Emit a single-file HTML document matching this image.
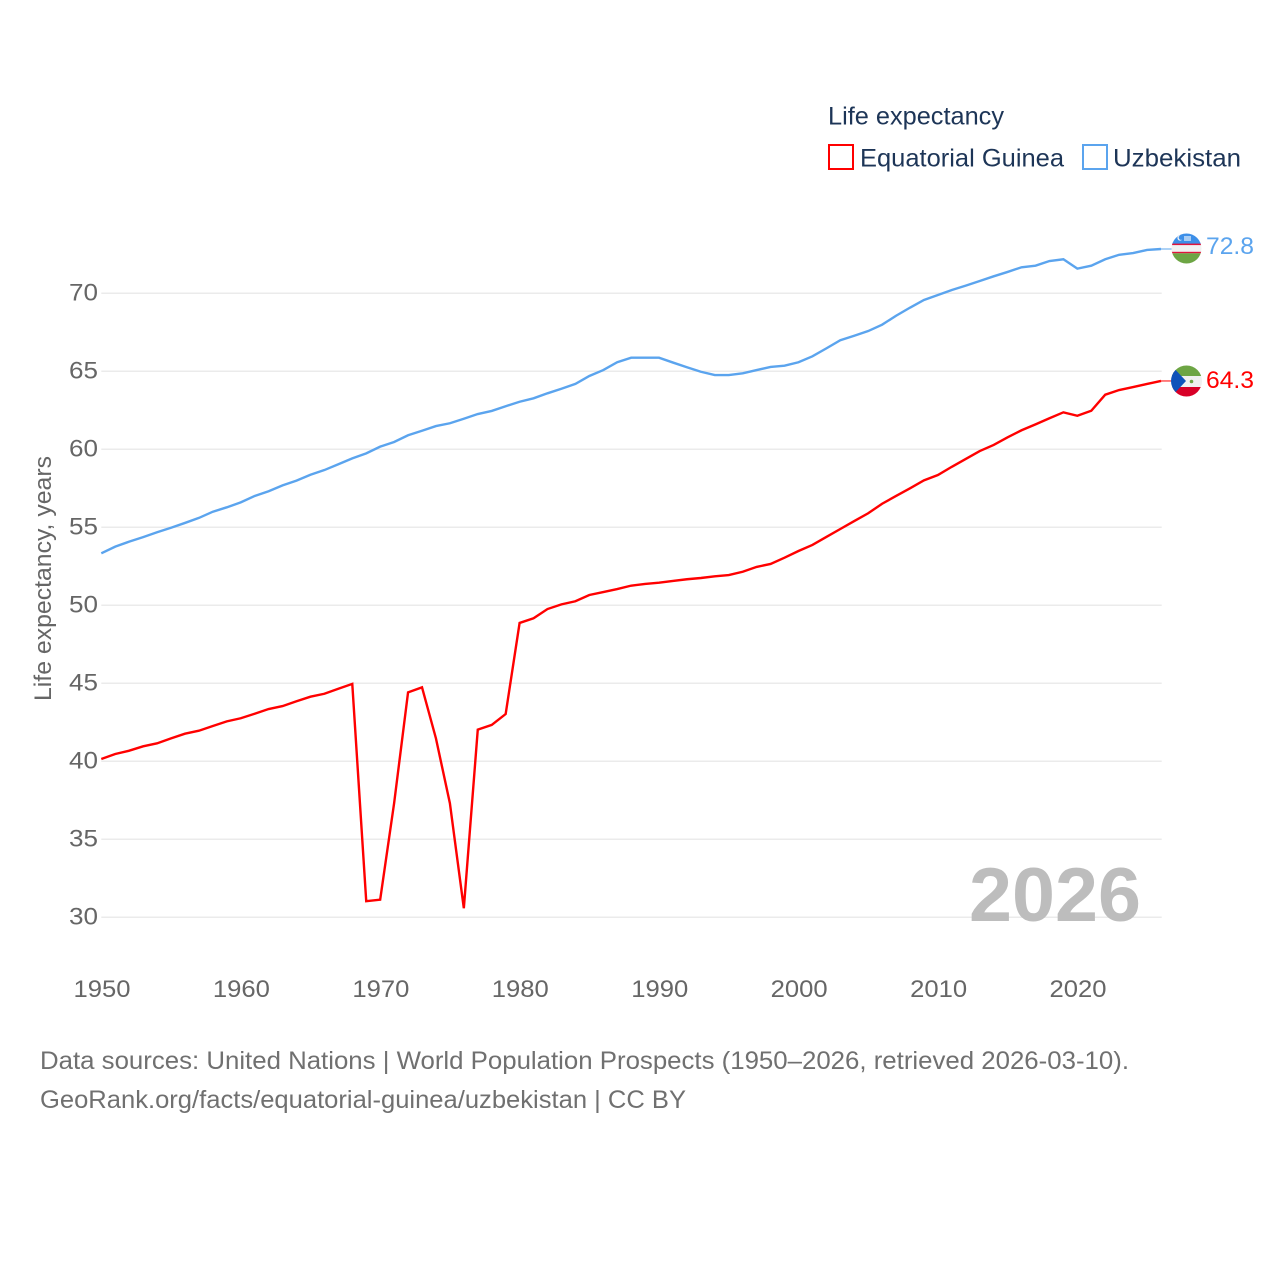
<!DOCTYPE html>
<html lang="en">
<head>
<meta charset="utf-8">
<title>Life expectancy: Equatorial Guinea and Uzbekistan</title>
<style>
html,body{margin:0;padding:0;background:#fff;}
svg{display:block;font-family:"Liberation Sans",sans-serif;}
</style>
</head>
<body>
<svg id="chart" xmlns="http://www.w3.org/2000/svg" width="1280" height="1280" viewBox="0 0 1280 1280">
  <defs>
    <clipPath id="clip-uz"><circle cx="1186.5" cy="248.5" r="15"/></clipPath>
    <clipPath id="clip-gq"><circle cx="1186.5" cy="381" r="15.5"/></clipPath>
  </defs>
  <rect x="0" y="0" width="1280" height="1280" fill="#ffffff"/>

  <g>
    <text x="828" y="124.5" font-size="25" fill="#1d3557" textLength="176" lengthAdjust="spacingAndGlyphs">Life expectancy</text>
    <g>
      <rect x="829" y="145" width="24" height="24" fill="#fff" stroke="#ff0000" stroke-width="2"/>
      <text x="860" y="166.5" font-size="25" fill="#1d3557" textLength="204" lengthAdjust="spacingAndGlyphs">Equatorial Guinea</text>
    </g>
    <g>
      <rect x="1083" y="145" width="24" height="24" fill="#fff" stroke="#5ba4ee" stroke-width="2"/>
      <text x="1113" y="166.5" font-size="25" fill="#1d3557" textLength="128" lengthAdjust="spacingAndGlyphs">Uzbekistan</text>
    </g>
  </g>

  <g id="grid"></g>
  <g id="y-ticks"></g>
  <g id="x-ticks"></g>

  <text transform="translate(51,701) rotate(-90)" x="0" y="0" font-size="24" fill="#666666" textLength="245" lengthAdjust="spacingAndGlyphs">Life expectancy, years</text>

  <text x="969" y="921" font-size="76" font-weight="700" fill="#bdbdbd" textLength="172" lengthAdjust="spacingAndGlyphs">2026</text>

  <g id="series"></g>

  <g clip-path="url(#clip-uz)">
    <rect x="1170" y="232" width="34" height="12" fill="#3d8fe8"/>
    <rect x="1170" y="244" width="34" height="9" fill="#f2f2f2"/>
    <rect x="1170" y="243.6" width="34" height="1.5" fill="#e0143c"/>
    <rect x="1170" y="251.8" width="34" height="1.5" fill="#e0143c"/>
    <rect x="1170" y="253.3" width="34" height="12" fill="#6da544"/>
    <circle cx="1180" cy="238" r="2.6" fill="#f2f2f2"/>
    <circle cx="1181" cy="237.6" r="2.3" fill="#3d8fe8"/>
    <rect x="1184" y="236" width="7" height="5" fill="#a9cdf4"/>
  </g>
  <g clip-path="url(#clip-gq)">
    <rect x="1170" y="365" width="34" height="11" fill="#6da544"/>
    <rect x="1170" y="376" width="34" height="11" fill="#f0f0f0"/>
    <rect x="1170" y="387" width="34" height="11" fill="#d80027"/>
    <polygon points="1171,365 1186,381 1171,397" fill="#0f52ba"/>
    <circle cx="1191.5" cy="381.5" r="1.8" fill="#6da544"/>
  </g>

  <text x="1206" y="254" font-size="24.5" fill="#5ba4ee" textLength="48" lengthAdjust="spacingAndGlyphs">72.8</text>
  <text x="1206" y="388" font-size="24.5" fill="#ff0000" textLength="48" lengthAdjust="spacingAndGlyphs">64.3</text>

  <text x="40" y="1069" font-size="25" fill="#707070" textLength="1089" lengthAdjust="spacingAndGlyphs">Data sources: United Nations | World Population Prospects (1950–2026, retrieved 2026-03-10).</text>
  <text x="40" y="1108" font-size="25" fill="#707070" textLength="646" lengthAdjust="spacingAndGlyphs">GeoRank.org/facts/equatorial-guinea/uzbekistan | CC BY</text>
</svg>

<script>
const firstYear = 1950;
const lastYear = 2026;
const yTickValues = [30, 35, 40, 45, 50, 55, 60, 65, 70];
const xTickValues = [1950, 1960, 1970, 1980, 1990, 2000, 2010, 2020];
const equatorialGuineaValues = [
  40.15, 40.47, 40.68, 40.96, 41.15, 41.47, 41.77, 41.96, 42.26, 42.56,
  42.76, 43.05, 43.35, 43.54, 43.85, 44.14, 44.33, 44.65, 44.96, 31.03,
  31.13, 37.31, 44.42, 44.74, 41.47, 37.31, 30.58, 42.03, 42.33, 43.03,
  48.87, 49.17, 49.76, 50.06, 50.26, 50.66, 50.85, 51.04, 51.26, 51.37,
  51.45, 51.56, 51.67, 51.75, 51.86, 51.94, 52.15, 52.46, 52.65, 53.05,
  53.48, 53.87, 54.38, 54.89, 55.40, 55.90, 56.51, 57.01, 57.50, 58.01,
  58.35, 58.88, 59.38, 59.89, 60.28, 60.77, 61.22, 61.60, 61.99, 62.37,
  62.15, 62.47, 63.50, 63.80, 63.99, 64.19, 64.38
];
const uzbekistanValues = [
  53.33, 53.76, 54.08, 54.37, 54.68, 54.97, 55.28, 55.60, 56.00, 56.28,
  56.60, 57.01, 57.31, 57.69, 57.99, 58.37, 58.67, 59.04, 59.42, 59.74,
  60.17, 60.47, 60.90, 61.19, 61.49, 61.67, 61.96, 62.26, 62.46, 62.76,
  63.05, 63.27, 63.59, 63.88, 64.19, 64.70, 65.08, 65.58, 65.87, 65.87,
  65.87, 65.56, 65.26, 64.97, 64.76, 64.76, 64.87, 65.08, 65.28, 65.36,
  65.58, 65.96, 66.47, 66.99, 67.28, 67.58, 67.99, 68.56, 69.08, 69.57,
  69.89, 70.21, 70.49, 70.79, 71.09, 71.37, 71.67, 71.77, 72.07, 72.18,
  71.58, 71.77, 72.18, 72.47, 72.58, 72.78, 72.84
];

const SVG_NS = 'http://www.w3.org/2000/svg';
const plotLeft = 101.3;
const plotRight = 1161;
const gridRight = 1161.7;
const labelShift = 0.7;
const plotY30 = 917.3;
const plotY70 = 293.3;

function xScale(year) {
  return plotLeft + (year - firstYear) * (plotRight - plotLeft) / (lastYear - firstYear);
}
function yScale(value) {
  return plotY30 + (value - 30) * (plotY70 - plotY30) / (70 - 30);
}
function make(tag, attrs, text) {
  const el = document.createElementNS(SVG_NS, tag);
  for (const k in attrs) el.setAttribute(k, attrs[k]);
  if (text !== undefined) el.textContent = text;
  return el;
}

const gridGroup = document.getElementById('grid');
const yTickGroup = document.getElementById('y-ticks');
yTickValues.forEach(function (v) {
  const line = make('line', { x1: plotLeft, x2: gridRight, y1: yScale(v), y2: yScale(v), stroke: '#ebebeb', 'stroke-width': 1.5 });
  
  
  gridGroup.appendChild(line);
  const label = make('text', { x: 69, y: yScale(v) + 7, 'font-size': 24.5, fill: '#666666', textLength: 29, lengthAdjust: 'spacingAndGlyphs' }, String(v));
  
  
  yTickGroup.appendChild(label);
});

const xTickGroup = document.getElementById('x-ticks');
xTickValues.forEach(function (y) {
  const label = make('text', { x: xScale(y) + labelShift, y: 997, 'font-size': 24.5, fill: '#666666', 'text-anchor': 'middle', textLength: 57, lengthAdjust: 'spacingAndGlyphs' }, String(y));
  
  
  xTickGroup.appendChild(label);
});

function pathFor(values) {
  return values.map(function (v, i) {
    return (i ? 'L' : 'M') + xScale(firstYear + i).toFixed(2) + ' ' + yScale(v).toFixed(2);
  }).join(' ');
}

const seriesGroup = document.getElementById('series');

const uzLine = make('path', { d: pathFor(uzbekistanValues), fill: 'none', stroke: '#5ba4ee', 'stroke-width': 2.4, 'stroke-linejoin': 'miter' });


seriesGroup.appendChild(uzLine);

const gqLine = make('path', { d: pathFor(equatorialGuineaValues), fill: 'none', stroke: '#ff0000', 'stroke-width': 2.4, 'stroke-linejoin': 'miter' });


seriesGroup.appendChild(gqLine);

const uzEnd = yScale(uzbekistanValues[uzbekistanValues.length - 1]);
const uzConnector = make('line', { x1: plotRight, x2: 1173, y1: uzEnd, y2: uzEnd, stroke: '#5ba4ee', 'stroke-width': 1 });


seriesGroup.appendChild(uzConnector);

const gqEnd = yScale(equatorialGuineaValues[equatorialGuineaValues.length - 1]);
const gqConnector = make('line', { x1: plotRight, x2: 1173, y1: gqEnd, y2: gqEnd, stroke: '#ff0000', 'stroke-width': 1 });


seriesGroup.appendChild(gqConnector);
</script>
</body>
</html>
